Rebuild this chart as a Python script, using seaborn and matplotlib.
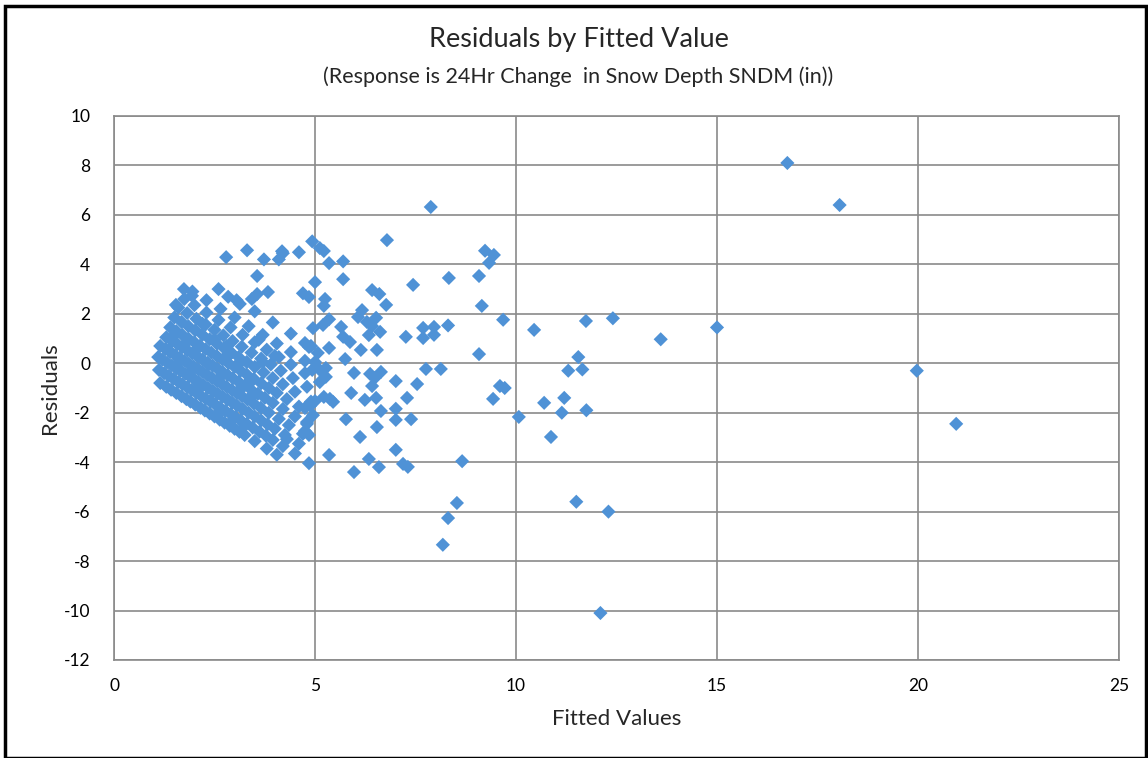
import matplotlib
matplotlib.use("Agg")
import matplotlib.pyplot as plt
import seaborn as sns
import pandas as pd
from matplotlib.patches import Rectangle

# ---- data ----
# dense cluster, organised by observed-value streaks
fit_a = [1.15, 1.3, 1.42, 1.55, 1.68, 1.8, 1.9, 2.02, 2.15, 2.26, 2.38, 2.5, 2.63, 2.75, 2.88, 3.0, 3.12, 3.25, 3.5, 3.8, 4.05, 4.3]
res_a = [-0.8, -0.95, -1.07, -1.2, -1.33, -1.45, -1.55, -1.67, -1.8, -1.91, -2.03, -2.15, -2.28, -2.4, -2.53, -2.65, -2.77, -2.9, -3.15, -3.45, -3.7, -3.07]
fit_b = [1.12, 1.25, 1.36, 1.48, 1.6, 1.7, 1.82, 1.93, 2.05, 2.16, 2.28, 2.4, 2.52, 2.64, 2.77, 2.9, 3.02, 3.15, 3.3, 3.45, 3.62, 3.78, 3.95, 4.2, 4.5]
res_b = [-0.27, -0.4, -0.51, -0.63, -0.75, -0.85, -0.97, -1.08, -1.2, -1.31, -1.43, -1.55, -1.67, -1.79, -1.92, -2.05, -2.17, -2.3, -2.45, -2.6, -2.77, -2.93, -3.1, -3.35, -3.65]
fit_c = [1.1, 1.2, 1.32, 1.44, 1.56, 1.66, 1.77, 1.88, 2.0, 2.1, 2.22, 2.34, 2.46, 2.58, 2.7, 2.82, 2.94, 3.06, 3.2, 3.35, 3.5, 3.66, 3.82, 4.0, 4.25, 4.6]
res_c = [0.25, 0.15, 0.03, -0.09, -0.21, -0.31, -0.42, -0.53, -0.65, -0.75, -0.87, -0.99, -1.11, -1.23, -1.35, -1.47, -1.59, -1.71, -1.85, -2.0, -2.15, -2.31, -2.47, -2.65, -2.9, -3.25]
fit_d = [1.15, 1.28, 1.4, 1.52, 1.63, 1.75, 1.86, 1.98, 2.1, 2.2, 2.32, 2.44, 2.56, 2.68, 2.8, 2.93, 3.05, 3.18, 3.32, 3.48, 3.65, 3.85, 4.1, 4.35, 4.7]
res_d = [0.7, 0.57, 0.45, 0.33, 0.22, 0.1, -0.01, -0.13, -0.25, -0.35, -0.47, -0.59, -0.71, -0.83, -0.95, -1.08, -1.2, -1.33, -1.47, -1.63, -1.8, -2.0, -2.25, -2.5, -2.85]
fit_e = [1.3, 1.45, 1.58, 1.7, 1.83, 1.95, 2.08, 2.2, 2.33, 2.45, 2.58, 2.7, 2.83, 2.96, 3.1, 3.25, 3.4, 3.58, 3.75, 3.95, 4.2, 4.5, 4.8]
res_e = [1.05, 0.9, 0.77, 0.65, 0.52, 0.4, 0.27, 0.15, 0.02, -0.1, -0.23, -0.35, -0.48, -0.61, -0.75, -0.9, -1.05, -1.23, -1.4, -1.6, -1.85, -2.15, -2.45]
fit_f = [1.4, 1.55, 1.7, 1.85, 2.0, 2.14, 2.28, 2.42, 2.56, 2.7, 2.85, 3.0, 3.15, 3.3, 3.48, 3.66, 3.85, 4.05, 4.3, 4.6, 4.95]
res_f = [1.45, 1.3, 1.15, 1.0, 0.85, 0.71, 0.57, 0.43, 0.29, 0.15, 0.0, -0.15, -0.3, -0.45, -0.63, -0.81, -1.0, -1.2, -1.45, -1.75, -2.1]
fit_g = [1.5, 1.68, 1.85, 2.02, 2.2, 2.38, 2.56, 2.74, 2.92, 3.1, 3.3, 3.5, 3.72, 3.95, 4.2, 4.5, 4.9]
res_g = [1.85, 1.67, 1.5, 1.33, 1.15, 0.97, 0.79, 0.61, 0.43, 0.25, 0.05, -0.15, -0.37, -0.6, -0.85, -1.15, -1.55]
fit_h = [1.6, 1.82, 2.05, 2.28, 2.5, 2.72, 2.95, 3.18, 3.42, 3.66, 3.9, 4.15, 4.45, 4.8]
res_h = [2.25, 2.03, 1.8, 1.57, 1.35, 1.13, 0.9, 0.67, 0.43, 0.19, -0.05, -0.3, -0.6, -0.95]
fit_i = [1.75, 2.0, 2.3, 2.6, 2.9, 3.2, 3.5, 3.8, 4.1, 4.4, 4.75]
res_i = [2.6, 2.35, 2.05, 1.75, 1.45, 1.15, 0.85, 0.55, 0.25, -0.05, -0.4]
fit_j = [1.95, 2.3, 2.65, 3.0, 3.35, 3.7, 4.05, 4.4, 4.75]
res_j = [2.9, 2.55, 2.2, 1.85, 1.5, 1.15, 0.8, 0.45, 0.1]
fit_k = [2.6, 3.05, 3.5, 3.95, 4.4, 4.9]
res_k = [3.0, 2.55, 2.1, 1.65, 1.2, 0.7]
# extra points filling the gaps of the dense blob
fit_m = [1.35, 1.62, 1.9, 2.12, 2.4, 2.66, 2.95, 3.22, 3.45, 1.48, 1.78, 2.05, 2.35, 2.62, 2.88, 3.15, 3.4, 3.7, 2.2, 2.5, 2.8, 3.1, 3.6, 4.0]
res_m = [0.55, 0.05, -0.35, -0.95, -1.5, -1.95, -2.3, -2.45, -1.3, 1.1, 0.8, 0.55, -0.05, -0.6, 0.35, 0.05, -0.75, 0.05, 1.6, 0.95, 0.7, -1.1, 0.95, 0.3]

# sparser points
fit_s = [2.79, 3.31, 3.73, 4.18, 4.2, 4.1, 4.6, 3.56, 1.74, 1.94, 2.84, 1.54, 3.43, 3.56, 3.83, 3.13,
         4.93, 5.12, 5.22, 5.35, 5.7, 5.0, 5.7, 6.42, 6.6, 6.77, 7.44, 6.79, 4.7, 4.85, 5.25, 5.22,
         6.17, 6.07, 6.52, 5.35, 6.29, 6.42, 4.95, 5.2, 5.65,
         6.62, 6.34, 5.7, 5.87, 5.35, 6.14, 6.54, 5.75, 4.75, 4.85, 5.07, 5.0, 4.93, 5.12, 5.27,
         5.12, 5.27, 5.97, 6.37, 6.49, 6.64, 6.42, 7.01, 5.9, 6.24, 6.52, 5.22, 5.37, 5.45, 5.0,
         4.75, 4.88, 6.64, 7.01, 7.01, 5.77, 4.8, 4.75, 4.85, 6.54, 6.12, 7.01, 5.35, 6.34, 4.85,
         6.59, 5.97,
         7.88, 9.23, 9.45, 9.33, 8.33, 9.08, 9.15, 9.68, 10.45, 11.74, 12.41, 7.69, 7.96, 8.31,
         7.26, 7.69, 7.96, 9.08, 7.76, 8.13, 7.54, 7.29, 9.6, 9.72, 9.43, 7.39, 8.66, 7.19, 7.31,
         8.53, 8.31, 8.18,
         10.07, 10.7, 10.87, 11.14, 11.2, 11.75, 11.3, 11.55, 11.65, 11.5, 12.3, 12.1,
         13.6, 15.0, 16.75, 18.05, 19.97, 20.95]
res_s = [4.29, 4.57, 4.2, 4.53, 4.45, 4.2, 4.49, 3.53, 3.0, 2.73, 2.69, 2.36, 2.6, 2.8, 2.88, 2.4,
         4.93, 4.66, 4.54, 4.05, 4.12, 3.28, 3.4, 2.96, 2.8, 2.36, 3.17, 4.98, 2.83, 2.68, 2.6, 2.32,
         2.15, 1.87, 1.84, 1.78, 1.67, 1.5, 1.42, 1.55, 1.47,
         1.27, 1.14, 1.07, 0.86, 0.62, 0.54, 0.54, 0.17, 0.82, 0.66, 0.42, 0.05, -0.27, -0.27, -0.19,
         -0.76, -0.55, -0.39, -0.43, -0.59, -0.35, -0.92, -0.72, -1.2, -1.48, -1.4, -1.36, -1.44, -1.56, -1.53,
         -1.81, -1.72, -1.93, -1.84, -2.29, -2.26, -2.38, -2.74, -2.9, -2.58, -2.98, -3.5, -3.71, -3.87, -4.04,
         -4.2, -4.4,
         6.32, 4.55, 4.38, 4.06, 3.45, 3.53, 2.32, 1.76, 1.35, 1.71, 1.82, 1.43, 1.47, 1.53,
         1.07, 1.02, 1.15, 0.37, -0.23, -0.23, -0.84, -1.4, -0.92, -1.0, -1.44, -2.26, -3.96, -4.07, -4.19,
         -5.65, -6.26, -7.34,
         -2.17, -1.6, -2.98, -2.0, -1.4, -1.9, -0.3, 0.25, -0.25, -5.6, -6.0, -10.1,
         0.97, 1.45, 8.1, 6.4, -0.3, -2.45]

x_ticks = [0, 5, 10, 15, 20, 25]
y_ticks = [-12, -10, -8, -6, -4, -2, 0, 2, 4, 6, 8, 10]

title = "Residuals by Fitted Value"
subtitle = "(Response is 24Hr Change  in Snow Depth SNDM (in))"
x_label = "Fitted Values"
y_label = "Residuals"

fitted = (fit_a + fit_b + fit_c + fit_d + fit_e + fit_f + fit_g + fit_h + fit_i + fit_j + fit_k + fit_m + fit_s)
resid = (res_a + res_b + res_c + res_d + res_e + res_f + res_g + res_h + res_i + res_j + res_k + res_m + res_s)
df = pd.DataFrame({"Fitted": fitted, "Residual": resid})

# ---- style ----
sns.set_style("white")
plt.rcParams["font.family"] = ["Lato", "DejaVu Sans"]
plt.rcParams["axes.unicode_minus"] = False

fig = plt.figure(figsize=(11.48, 7.58), dpi=100)
ax = fig.add_axes([114 / 1148, 1 - 660 / 758, (1119 - 114) / 1148, (660 - 116) / 758])

grid_col = "#8a8a8a"
sns.scatterplot(data=df, x="Fitted", y="Residual", ax=ax, marker="D", s=52,
                color="#4F92D6", edgecolor="none", linewidth=0, zorder=3)

ax.set_xlim(0, 25)
ax.set_ylim(-12, 10)
ax.set_xticks(x_ticks)
ax.set_yticks(y_ticks)
ax.grid(True, color=grid_col, linewidth=1.2)
ax.set_axisbelow(True)
for sp in ax.spines.values():
    sp.set_color(grid_col)
    sp.set_linewidth(1.2)
ax.tick_params(axis="both", which="major", direction="out", length=5, width=1.2,
               color=grid_col, labelsize=12.5, labelcolor="black")
ax.tick_params(axis="x", pad=8)
ax.tick_params(axis="y", pad=12)
ax.set_xlabel(x_label, fontsize=16, labelpad=11)
ax.set_ylabel(y_label, fontsize=16, labelpad=3)

fig.text(579 / 1148, 1 - 40 / 758, title, ha="center", va="center", fontsize=19.5)
fig.text(578 / 1148, 1 - 77 / 758, subtitle, ha="center", va="center", fontsize=15.5)

# outer frame of the chart
fig.patches.append(Rectangle((5 / 1148, 0), 1 - 7 / 1148, 1 - 6 / 758, transform=fig.transFigure,
                             fill=False, edgecolor="black", linewidth=2.5, zorder=10))

fig.savefig("out.png", dpi=100)
